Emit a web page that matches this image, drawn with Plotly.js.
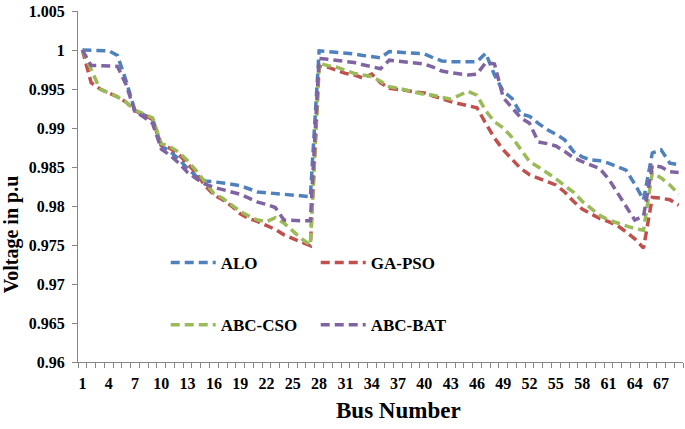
<!DOCTYPE html>
<html>
<head>
<meta charset="utf-8">
<script src="https://cdn.plot.ly/plotly-3.0.1.min.js"></script>
<style>html,body{margin:0;padding:0;background:#fff;}#chart{width:685px;height:429px;}</style>
</head>
<body>
<div id="chart"></div>
<script>
const busCount = 69;
const tickLabels = [1,4,7,10,13,16,19,22,25,28,31,34,37,40,43,46,49,52,55,58,61,64,67];
const yTicks = [0.96,0.965,0.97,0.975,0.98,0.985,0.99,0.995,1,1.005];

const alo = [1.0000,1.0000,1.0000,0.9999,0.9993,0.9960,0.9922,0.9917,0.9912,0.9877,
0.9870,0.9860,0.9848,0.9838,0.9832,0.9831,0.9830,0.9828,0.9826,0.9822,
0.9818,0.9817,0.9816,0.9814,0.9813,0.9812,0.9812,0.9999,0.9998,0.9998,
0.9997,0.9995,0.9993,0.9991,0.9990,0.9998,0.9997,0.9996,0.9995,0.9995,
0.9990,0.9986,0.9985,0.9985,0.9984,0.9985,0.9996,0.9968,0.9947,0.9938,
0.9918,0.9915,0.9906,0.9898,0.9892,0.9885,0.9870,0.9863,0.9859,0.9858,
0.9855,0.9850,0.9846,0.9828,0.9808,0.9868,0.9872,0.9855,0.9853];

const gapso = [1.0000,0.9958,0.9950,0.9945,0.9940,0.9933,0.9922,0.9917,0.9911,0.9878,
0.9874,0.9866,0.9854,0.9842,0.9826,0.9814,0.9808,0.9800,0.9790,0.9784,
0.9780,0.9775,0.9770,0.9763,0.9758,0.9753,0.9749,0.9979,0.9978,0.9974,
0.9970,0.9968,0.9964,0.9969,0.9958,0.9951,0.9950,0.9948,0.9946,0.9945,
0.9941,0.9937,0.9934,0.9931,0.9929,0.9926,0.9906,0.9887,0.9872,0.9860,
0.9848,0.9840,0.9836,0.9831,0.9827,0.9818,0.9806,0.9796,0.9790,0.9784,
0.9780,0.9775,0.9767,0.9758,0.9746,0.9811,0.9810,0.9808,0.9801];

const abccso = [1.0000,0.9975,0.9950,0.9945,0.9940,0.9933,0.9923,0.9918,0.9913,0.9880,
0.9876,0.9869,0.9858,0.9845,0.9830,0.9816,0.9810,0.9802,0.9793,0.9787,
0.9782,0.9780,0.9785,0.9778,0.9768,0.9758,0.9750,0.9983,0.9980,0.9978,
0.9974,0.9970,0.9968,0.9966,0.9960,0.9953,0.9951,0.9948,0.9946,0.9943,
0.9942,0.9939,0.9937,0.9942,0.9947,0.9942,0.9922,0.9908,0.9900,0.9888,
0.9872,0.9857,0.9850,0.9843,0.9835,0.9826,0.9818,0.9806,0.9797,0.9788,
0.9782,0.9778,0.9774,0.9771,0.9769,0.9843,0.9836,0.9827,0.9815];

const abcbat = [1.0000,0.9980,0.9980,0.9980,0.9979,0.9955,0.9921,0.9914,0.9906,0.9873,
0.9865,0.9855,0.9843,0.9835,0.9828,0.9824,0.9821,0.9818,0.9815,0.9810,
0.9805,0.9802,0.9798,0.9782,0.9781,0.9781,0.9781,0.9989,0.9988,0.9987,
0.9986,0.9984,0.9981,0.9978,0.9976,0.9987,0.9986,0.9984,0.9983,0.9982,
0.9978,0.9973,0.9971,0.9970,0.9968,0.9969,0.9984,0.9982,0.9939,0.9926,
0.9913,0.9906,0.9882,0.9880,0.9877,0.9870,0.9862,0.9857,0.9852,0.9848,
0.9835,0.9818,0.9800,0.9782,0.9787,0.9852,0.9850,0.9844,0.9843];

const buses = Array.from({length: busCount}, (_, i) => i + 1);
const boundaries = Array.from({length: busCount + 1}, (_, i) => i + 0.5);

const FONT = 'Liberation Serif';
const dashPat = '9px,5px';

function tr(name, y, color, legend) {
  return {x: buses, y: y, name: name, type: 'scatter', mode: 'lines',
    line: {color: color, width: 3.5, dash: dashPat}, legend: legend};
}

const data = [
  tr('ALO', alo, '#4F81BD', 'legend'),
  tr('GA-PSO', gapso, '#C0504D', 'legend'),
  tr('ABC-CSO', abccso, '#9BBB59', 'legend2'),
  tr('ABC-BAT', abcbat, '#8064A2', 'legend2')
];

const legendCommon = {
  orientation: 'h', xref: 'paper', yref: 'paper', xanchor: 'left', yanchor: 'middle',
  bgcolor: 'rgba(0,0,0,0)', font: {family: FONT, size: 17, color: '#000', weight: 'bold'},
  entrywidth: 90, entrywidthmode: 'pixels', itemwidth: 45, traceorder: 'normal'
};

const layout = {
  width: 685, height: 429,
  margin: {l: 78, r: 2, t: 11, b: 67},
  paper_bgcolor: '#fff', plot_bgcolor: '#fff',
  font: {family: FONT, color: '#000'},
  showlegend: true,
  legend: Object.assign({}, legendCommon, {x: 0.145, y: 0.282}),
  legend2: Object.assign({}, legendCommon, {x: 0.145, y: 0.105}),
  xaxis: {
    range: [0.5, busCount + 0.5],
    tickmode: 'array', tickvals: tickLabels, ticktext: tickLabels.map(String),
    ticks: '', showgrid: false, zeroline: false,
    showline: true, linecolor: '#868686', linewidth: 1,
    ticklabelstandoff: 7,
    tickfont: {family: FONT, size: 16, color: '#000', weight: 'bold'},
    minor: {tickmode: 'array', tickvals: boundaries, ticks: 'outside', ticklen: 5, tickcolor: '#868686', showgrid: false}
  },
  yaxis: {
    range: [0.96, 1.005],
    tickmode: 'array', tickvals: yTicks, ticktext: yTicks.map(v => String(v)),
    ticks: 'outside', ticklen: 5, tickcolor: '#868686',
    showgrid: false, zeroline: false,
    showline: true, linecolor: '#868686', linewidth: 1,
    ticklabelstandoff: 4,
    tickfont: {family: FONT, size: 16, color: '#000', weight: 'bold'}
  },
  annotations: [
    {text: 'Bus Number', xref: 'paper', yref: 'paper', x: 0.529, y: -0.137,
     xanchor: 'center', yanchor: 'middle', showarrow: false,
     font: {family: FONT, size: 23, color: '#000', weight: 'bold'}},
    {text: 'Voltage in p.u', xref: 'paper', yref: 'paper', x: -0.11, y: 0.365,
     xanchor: 'center', yanchor: 'middle', showarrow: false, textangle: -90,
     font: {family: FONT, size: 20, color: '#000', weight: 'bold'}}
  ]
};

Plotly.newPlot('chart', data, layout, {displayModeBar: false, staticPlot: true});
</script>
</body>
</html>
